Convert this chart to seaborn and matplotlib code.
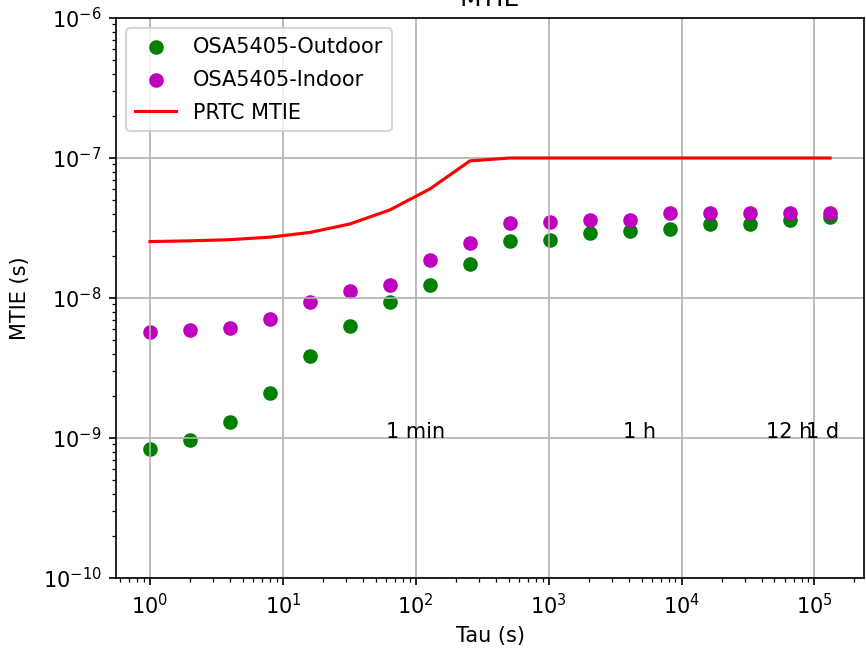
import numpy as np
import pandas as pd
import seaborn as sns
import matplotlib
matplotlib.use("Agg")
import matplotlib.pyplot as plt

# tau values (s), powers of two
tau = [1, 2, 4, 8, 16, 32, 64, 128, 256, 512, 1024, 2048, 4096,
       8192, 16384, 32768, 65536, 131072]

# MTIE values (s)
outdoor = [8.4e-10, 9.6e-10, 1.31e-9, 2.11e-9, 3.83e-9, 6.27e-9, 9.3e-9,
           1.23e-8, 1.74e-8, 2.55e-8, 2.59e-8, 2.92e-8, 3.02e-8, 3.10e-8,
           3.35e-8, 3.35e-8, 3.6e-8, 3.76e-8]
indoor = [5.71e-9, 5.87e-9, 6.14e-9, 7.12e-9, 9.37e-9, 1.12e-8, 1.23e-8,
          1.88e-8, 2.48e-8, 3.43e-8, 3.50e-8, 3.6e-8, 3.6e-8, 4.08e-8,
          4.08e-8, 4.08e-8, 4.08e-8, 4.08e-8]
prtc = [25.3e-9, 25.6e-9, 26.1e-9, 27.2e-9, 29.4e-9, 33.8e-9, 42.6e-9,
        60.2e-9, 95.4e-9, 100e-9, 100e-9, 100e-9, 100e-9, 100e-9,
        100e-9, 100e-9, 100e-9, 100e-9]

# time markers
mark_labels = ["1 min", "1 h", "12 h", "1 d"]
mark_tau = [60, 3600, 43200, 86400]

df = pd.DataFrame({"tau": tau, "outdoor": outdoor, "indoor": indoor, "prtc": prtc})

fig = plt.figure(figsize=(866 / 150, 649 / 150), dpi=150)
ax = fig.add_axes([116 / 866, 1 - 578 / 649, 748 / 866, 560 / 649])

sns.scatterplot(data=df, x="tau", y="outdoor", color="g", s=36,
                edgecolor="g", linewidth=1, label="OSA5405-Outdoor", ax=ax)
sns.scatterplot(data=df, x="tau", y="indoor", color="m", s=36,
                edgecolor="m", linewidth=1, label="OSA5405-Indoor", ax=ax)
sns.lineplot(data=df, x="tau", y="prtc", color="r", linewidth=1.5,
             label="PRTC MTIE", ax=ax)

ax.set_xscale("log")
ax.set_yscale("log")
ax.set_xlim(0.555, 2.36e5)
ax.set_ylim(1e-10, 1e-6)
ax.grid(True)

for lbl, t in zip(mark_labels, mark_tau):
    ax.text(t, 1e-9, lbl)

ax.set_title("MTIE")
ax.set_xlabel("Tau (s)")
ax.set_ylabel("MTIE (s)", labelpad=6)
ax.legend(loc="upper left", labelspacing=0.62)

fig.savefig("out.png", dpi=150)
